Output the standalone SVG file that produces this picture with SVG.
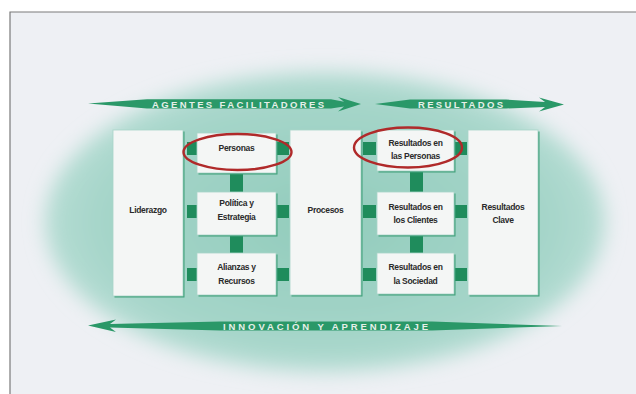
<svg xmlns="http://www.w3.org/2000/svg" width="636" height="394" viewBox="0 0 636 394">
  <defs>
    <radialGradient id="halo" cx="0.5" cy="0.5" r="0.5">
      <stop offset="0" stop-color="#92ccbc"/>
      <stop offset="0.8" stop-color="#a5d5c9"/>
      <stop offset="1" stop-color="#b6ddd4"/>
    </radialGradient>
    <filter id="soft" x="-15%" y="-15%" width="130%" height="130%">
      <feGaussianBlur stdDeviation="10"/>
    </filter>
    <style>
      .box { fill: #f4f6f5; stroke: #a9d5c8; stroke-width: 0.8; }
      .shadow { fill: #3f9f78; }
      .lbl { font-family: "Liberation Sans", "DejaVu Sans", sans-serif; font-size: 8.5px; font-weight: bold; fill: #2a2a2a; text-anchor: middle; letter-spacing: -0.3px; }
      .band { fill: #2a9868; }
      .btxt { font-family: "Liberation Sans", "DejaVu Sans", sans-serif; font-size: 9.5px; font-weight: bold; fill: #e6efe9; }
      .conn { fill: #1f8c5c; }
      .ring { fill: none; stroke: #b02a2a; stroke-width: 2.4; }
    </style>
  </defs>

  <!-- page -->
  <rect x="0" y="0" width="636" height="394" fill="#ffffff"/>
  <rect x="10" y="12" width="626" height="382" fill="#eef0f4"/>

  <!-- halo -->
  <ellipse cx="325" cy="222" rx="280" ry="150" fill="url(#halo)" filter="url(#soft)"/>

  <path d="M10,394 V12 H636" fill="none" stroke="#7a7a7a" stroke-width="1.2"/>

  <!-- arrows -->
  <g id="arrow-agentes">
    <path class="band" d="M88,103.5 L147,99.3 L331,99.3 L344,101.8 L338,97 L361,104 L338,111.5 L344,106.5 L331,108.5 L147,108.5 Z"/>
    <text class="btxt" x="152" y="107.8" textLength="172" lengthAdjust="spacing">AGENTES FACILITADORES</text>
  </g>
  <g id="arrow-resultados">
    <path class="band" d="M375,104 L410,99.5 L506,99.5 L545,102 L539,97.5 L564,104.5 L539,111.5 L545,107 L506,108.5 L410,108.5 Z"/>
    <text class="btxt" x="418" y="107.8" textLength="85" lengthAdjust="spacing">RESULTADOS</text>
  </g>
  <g id="arrow-innovacion">
    <path class="band" d="M562,326 L432,321.5 L220,321.5 L110,324 L116,319.5 L88,325.5 L116,332 L110,327.5 L220,330.5 L432,330.5 Z"/>
    <text class="btxt" x="223" y="330" textLength="205" lengthAdjust="spacing">INNOVACIÓN Y APRENDIZAJE</text>
  </g>

  <!-- connectors -->
  <g id="connectors">
    <rect class="conn" x="187" y="142" width="10" height="13"/>
    <rect class="conn" x="277" y="142" width="12" height="13"/>
    <rect class="conn" x="187" y="205" width="10" height="13"/>
    <rect class="conn" x="277" y="205" width="12" height="13"/>
    <rect class="conn" x="187" y="268" width="10" height="13"/>
    <rect class="conn" x="277" y="268" width="12" height="13"/>
    <rect class="conn" x="230" y="173" width="13" height="19"/>
    <rect class="conn" x="230" y="235" width="13" height="18"/>

    <rect class="conn" x="363" y="142" width="13" height="13"/>
    <rect class="conn" x="455" y="142" width="12" height="13"/>
    <rect class="conn" x="363" y="205" width="13" height="13"/>
    <rect class="conn" x="455" y="205" width="12" height="13"/>
    <rect class="conn" x="363" y="268" width="13" height="13"/>
    <rect class="conn" x="455" y="268" width="12" height="13"/>
    <rect class="conn" x="410" y="172" width="13" height="20"/>
    <rect class="conn" x="410" y="235" width="13" height="18"/>
  </g>

  <!-- nodes -->
  <g id="liderazgo">
    <rect class="shadow" x="114.5" y="131.5" width="70" height="166"/>
    <rect class="box" x="113" y="130" width="70" height="166"/>
    <text class="lbl" x="148" y="213">Liderazgo</text>
  </g>
  <g id="personas">
    <rect class="shadow" x="198.5" y="134.5" width="79" height="40"/>
    <rect class="box" x="197" y="133" width="79" height="40"/>
    <text class="lbl" x="236.5" y="151">Personas</text>
  </g>
  <g id="politica">
    <rect class="shadow" x="198.5" y="193.5" width="79" height="43"/>
    <rect class="box" x="197" y="192" width="79" height="43"/>
    <text class="lbl" x="236.5" y="206">Política y</text>
    <text class="lbl" x="236.5" y="220">Estrategia</text>
  </g>
  <g id="alianzas">
    <rect class="shadow" x="198.5" y="254.5" width="79" height="42"/>
    <rect class="box" x="197" y="253" width="79" height="42"/>
    <text class="lbl" x="236.5" y="270">Alianzas y</text>
    <text class="lbl" x="236.5" y="284">Recursos</text>
  </g>
  <g id="procesos">
    <rect class="shadow" x="291.5" y="131.5" width="71" height="165"/>
    <rect class="box" x="290" y="130" width="71" height="165"/>
    <text class="lbl" x="325.5" y="213">Procesos</text>
  </g>
  <g id="res-personas">
    <rect class="shadow" x="378.5" y="131.5" width="77" height="41"/>
    <rect class="box" x="377" y="130" width="77" height="41"/>
    <text class="lbl" x="415.5" y="146">Resultados en</text>
    <text class="lbl" x="415.5" y="159">las Personas</text>
  </g>
  <g id="res-clientes">
    <rect class="shadow" x="378.5" y="193.5" width="77" height="43"/>
    <rect class="box" x="377" y="192" width="77" height="43"/>
    <text class="lbl" x="415.5" y="210">Resultados en</text>
    <text class="lbl" x="415.5" y="223">los Clientes</text>
  </g>
  <g id="res-sociedad">
    <rect class="shadow" x="378.5" y="254.5" width="77" height="41"/>
    <rect class="box" x="377" y="253" width="77" height="41"/>
    <text class="lbl" x="415.5" y="270">Resultados en</text>
    <text class="lbl" x="415.5" y="284">la Sociedad</text>
  </g>
  <g id="res-clave">
    <rect class="shadow" x="469.5" y="131.5" width="70" height="165"/>
    <rect class="box" x="468" y="130" width="70" height="165"/>
    <text class="lbl" x="503" y="210">Resultados</text>
    <text class="lbl" x="503" y="223">Clave</text>
  </g>

  <!-- highlight rings -->
  <ellipse class="ring" cx="237.5" cy="152" rx="54" ry="18"/>
  <ellipse class="ring" cx="408" cy="147.5" rx="54" ry="20"/>
</svg>
